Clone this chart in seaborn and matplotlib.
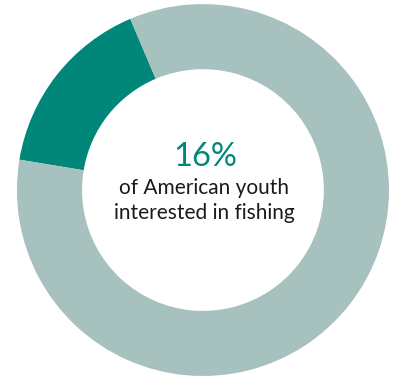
import seaborn as sns
import matplotlib.pyplot as plt

# data
groups = ['Interested in fishing', 'Not interested']
shares = [16, 84]
colors = ['#00877A', '#A6C1BE']

sns.set_theme(style='white')
plt.rcParams['font.family'] = ['Lato', 'DejaVu Sans']

fig = plt.figure(figsize=(3.94, 3.81), dpi=100)
ax = fig.add_axes([0, 0, 1, 1])

# donut
ax.pie(shares, colors=colors, startangle=113, counterclock=True,
       radius=1, wedgeprops=dict(width=0.35, edgecolor='none'))

ax.set_xlim(-1.091, 1.027)
ax.set_ylim(-1.027, 1.022)
ax.set_aspect('auto')
ax.axis('off')

# centre text
ax.text(0.01, 0.177, f'{shares[0]}%', ha='center', va='center',
        fontsize=23.5, color=colors[0])
ax.text(0.005, 0.011, 'of American youth', ha='center', va='center',
        fontsize=15, color='#1a1a1a')
ax.text(0.005, -0.124, 'interested in fishing', ha='center', va='center',
        fontsize=15, color='#1a1a1a')

fig.savefig('out.png', dpi=100)
